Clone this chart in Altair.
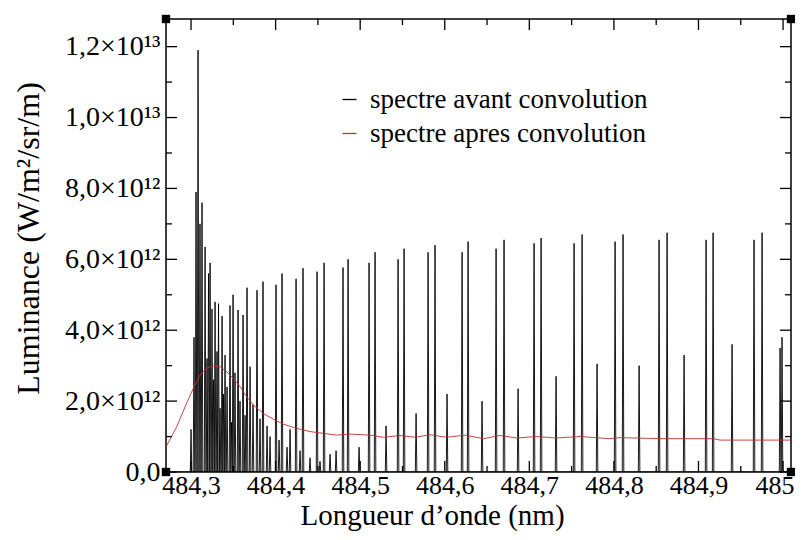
import altair as alt
import pandas as pd

# ---- axis ranges / ticks (wavelength in nm, luminance in 1e12 W/m²/sr/m) ----
X_DOMAIN = [484.2704, 485.0094]
Y_DOMAIN = [0.0, 12.78]
X_MAJOR = [484.3, 484.4, 484.5, 484.6, 484.7, 484.8, 484.9, 485.0]
X_MINOR = [484.35, 484.45, 484.55, 484.65, 484.75, 484.85, 484.95]
Y_MAJOR = [0, 2, 4, 6, 8, 10, 12]
Y_MINOR = [1, 3, 5, 7, 9, 11]

# ---- spectre avant convolution : line positions (nm) and peak heights (1e12) ----
PEAK_NM = [
    484.3000, 484.3035, 484.3059, 484.3083, 484.3106, 484.3130, 484.3166, 484.3189,
    484.3207, 484.3225, 484.3248, 484.3266, 484.3284, 484.3307, 484.3325, 484.3343,
    484.3367, 484.3384, 484.3402, 484.3426, 484.3461, 484.3479, 484.3497, 484.3520,
    484.3556, 484.3579, 484.3615, 484.3639, 484.3662, 484.3698, 484.3733, 484.3780,
    484.3816, 484.3851, 484.3899, 484.3934, 484.4005, 484.4041, 484.4076, 484.4135,
    484.4171, 484.4242, 484.4289, 484.4324, 484.4407, 484.4490, 484.4525, 484.4573,
    484.4644, 484.4715, 484.4797, 484.4857, 484.4987, 484.5105, 484.5176, 484.5306,
    484.5448, 484.5519, 484.5661, 484.5803, 484.5885, 484.6027, 484.6205, 484.6276,
    484.6441, 484.6607, 484.6701, 484.6867, 484.7056, 484.7139, 484.7316, 484.7529,
    484.7624, 484.7801, 484.8014, 484.8108, 484.8298, 484.8534, 484.8629, 484.8830,
    484.9090, 484.9173, 484.9397, 484.9657, 484.9752, 484.9965, 484.9988,
]
PEAK_LUM = [
    1.2, 3.8, 7.9, 11.9, 7.0, 7.6, 6.35, 3.2,
    5.6, 5.9, 4.6, 2.6, 4.8, 3.4, 4.75, 1.8,
    4.4, 2.2, 3.3, 2.4, 4.7, 1.4, 5.0, 2.8,
    4.57, 2.0, 4.43, 1.6, 5.2, 2.97, 1.9, 5.13,
    1.5, 5.37, 1.3, 1.0, 5.28, 0.9, 5.6, 0.7,
    1.2, 5.45, 0.6, 5.75, 0.4, 5.65, 0.3, 5.9,
    0.5, 0.6, 5.77, 6.0, 0.7, 5.9, 6.2, 1.3,
    6.0, 6.3, 1.65, 6.2, 6.4, 2.2, 6.2, 6.5,
    2.0, 6.3, 6.55, 2.35, 6.45, 6.6, 2.7, 6.45,
    6.7, 3.05, 6.5, 6.7, 3.0, 6.55, 6.75, 3.3,
    6.55, 6.75, 3.6, 6.55, 6.75, 3.5, 3.8,
]
HALF_WIDTH = 0.0009  # line half width at the base (nm)

# ---- spectre apres convolution ----
CONV_NM = [
    484.2705, 484.2831, 484.2949, 484.3027, 484.3106, 484.3186, 484.3264, 484.3343,
    484.3422, 484.3500, 484.3579, 484.3659, 484.3737, 484.3855, 484.3973, 484.4091,
    484.4250, 484.4407, 484.4565, 484.4723, 484.4880, 484.5117, 484.5275, 484.5471,
    484.5649, 484.5826, 484.6023, 484.6240, 484.6456, 484.6654, 484.6851, 484.7087,
    484.7324, 484.7600, 484.7955, 484.8073, 484.8546, 484.9173, 484.9256, 484.9926,
    485.0090,
]
CONV_LUM = [
    0.71, 1.28, 1.95, 2.36, 2.74, 2.93, 3.00, 2.97,
    2.83, 2.64, 2.41, 2.12, 1.89, 1.65, 1.49, 1.35,
    1.23, 1.14, 1.09, 1.04, 1.07, 1.04, 0.98, 1.03,
    0.98, 1.05, 0.98, 1.04, 0.94, 1.03, 0.96, 1.00,
    0.96, 1.00, 0.94, 0.97, 0.94, 0.94, 0.90, 0.90,
    0.90,
]

S1 = "spectre avant convolution"
S2 = "spectre apres convolution"
FONT = "Liberation Serif"

rows = []
k = 0
rows.append({"nm": X_DOMAIN[0], "lum": 0.0, "serie": S1, "k": k}); k += 1
for c, h in zip(PEAK_NM, PEAK_LUM):
    for xx, yy in ((c - HALF_WIDTH, 0.0), (c, h), (c + HALF_WIDTH, 0.0)):
        rows.append({"nm": xx, "lum": yy, "serie": S1, "k": k}); k += 1
rows.append({"nm": X_DOMAIN[1], "lum": 0.0, "serie": S1, "k": k}); k += 1
for i, (xx, yy) in enumerate(zip(CONV_NM, CONV_LUM)):
    rows.append({"nm": xx, "lum": yy, "serie": S2, "k": i})
df = pd.DataFrame(rows)

W, H = 625, 453

x_axis = alt.Axis(
    values=X_MAJOR, ticks=False, domain=False, grid=False,
    labelExpr="datum.value > 484.99 ? '485' : replace(format(datum.value, '.1f'), '.', ',')",
    labelFont=FONT, labelFontSize=26, labelColor="black", labelPadding=0,
    labelFlush=10, labelFlushOffset=11, labelOverlap=False,
    title="Longueur d\u2019onde (nm)", titleFont=FONT, titleFontSize=29,
    titleFontWeight="normal", titleColor="black",
    titleX=266, titleY=43.5, titleBaseline="middle", titleAnchor="middle",
)
y_axis = alt.Axis(
    values=Y_MAJOR, ticks=False, domain=False, grid=False,
    labelExpr="datum.value == 0 ? '0,0' : (datum.value < 10 ? replace(format(datum.value, '.1f'), '.', ',') + '\u00d710\u00b9\u00b2' : replace(format(datum.value / 10, '.1f'), '.', ',') + '\u00d710\u00b9\u00b3')",
    labelFont=FONT, labelFontSize=28, labelColor="black", labelPadding=6,
    labelFlush=False, labelOverlap=False,
    title="Luminance (W/m\u00b2/sr/m)", titleFont=FONT, titleFontSize=32,
    titleFontWeight="normal", titleColor="black",
    titleX=-138, titleY=219, titleBaseline="middle", titleAngle=-90,
)

X = alt.X("nm:Q", scale=alt.Scale(domain=X_DOMAIN, nice=False, zero=False), axis=x_axis)
Y = alt.Y("lum:Q", scale=alt.Scale(domain=Y_DOMAIN, nice=False, zero=False), axis=y_axis)

lines = alt.Chart(df).mark_line(strokeWidth=0.9, clip=True).encode(
    x=X, y=Y,
    order="k:Q",
    color=alt.Color(
        "serie:N",
        scale=alt.Scale(domain=[S1, S2], range=["#000000", "#c43030"]),
        legend=alt.Legend(
            title=None, orient="none", legendX=170, legendY=67, padding=0,
            symbolType="stroke", symbolSize=196, symbolStrokeWidth=1.3, symbolOffset=0,
            labelFont=FONT, labelFontSize=27, labelColor="black", labelLimit=0,
            labelOffset=7, rowPadding=6,
        ),
    ),
)

# inward ticks (xmgrace style), built from the tick value lists
xt_major = pd.DataFrame({"nm": X_MAJOR})
xt_minor = pd.DataFrame({"nm": X_MINOR})
yt_major = pd.DataFrame({"lum": Y_MAJOR})
yt_minor = pd.DataFrame({"lum": Y_MINOR})

def xticks(d, length):
    b = alt.Chart(d).mark_rule(color="black", strokeWidth=1.3)
    top = b.encode(x=X, y=alt.value(0), y2=alt.value(length))
    bot = b.encode(x=X, y=alt.value(H), y2=alt.value(H - length))
    return top + bot

def yticks(d, length):
    b = alt.Chart(d).mark_rule(color="black", strokeWidth=1.3)
    left = b.encode(y=Y, x=alt.value(0), x2=alt.value(length))
    right = b.encode(y=Y, x=alt.value(W), x2=alt.value(W - length))
    return left + right

corners = pd.DataFrame({
    "nm": [X_DOMAIN[0], X_DOMAIN[0], X_DOMAIN[1], X_DOMAIN[1]],
    "lum": [Y_DOMAIN[0], Y_DOMAIN[1], Y_DOMAIN[0], Y_DOMAIN[1]],
})
handles = alt.Chart(corners).mark_square(size=70, color="black", opacity=1, filled=True).encode(x=X, y=Y)

chart = alt.layer(
    lines,
    xticks(xt_major, 11), xticks(xt_minor, 6),
    yticks(yt_major, 11), yticks(yt_minor, 6),
    handles,
).properties(
    width=W, height=H,
    autosize=alt.AutoSizeParams(type="none"),
    padding={"left": 158, "top": 11, "right": 4, "bottom": 60},
).configure(
    background="white", font=FONT
).configure_axis(
    labelFont=FONT, titleFont=FONT
).configure_legend(
    labelFont=FONT
).configure_view(
    stroke="black", strokeWidth=1.5
)

chart.save("out.html", embed_options={"renderer": "svg", "actions": False})
